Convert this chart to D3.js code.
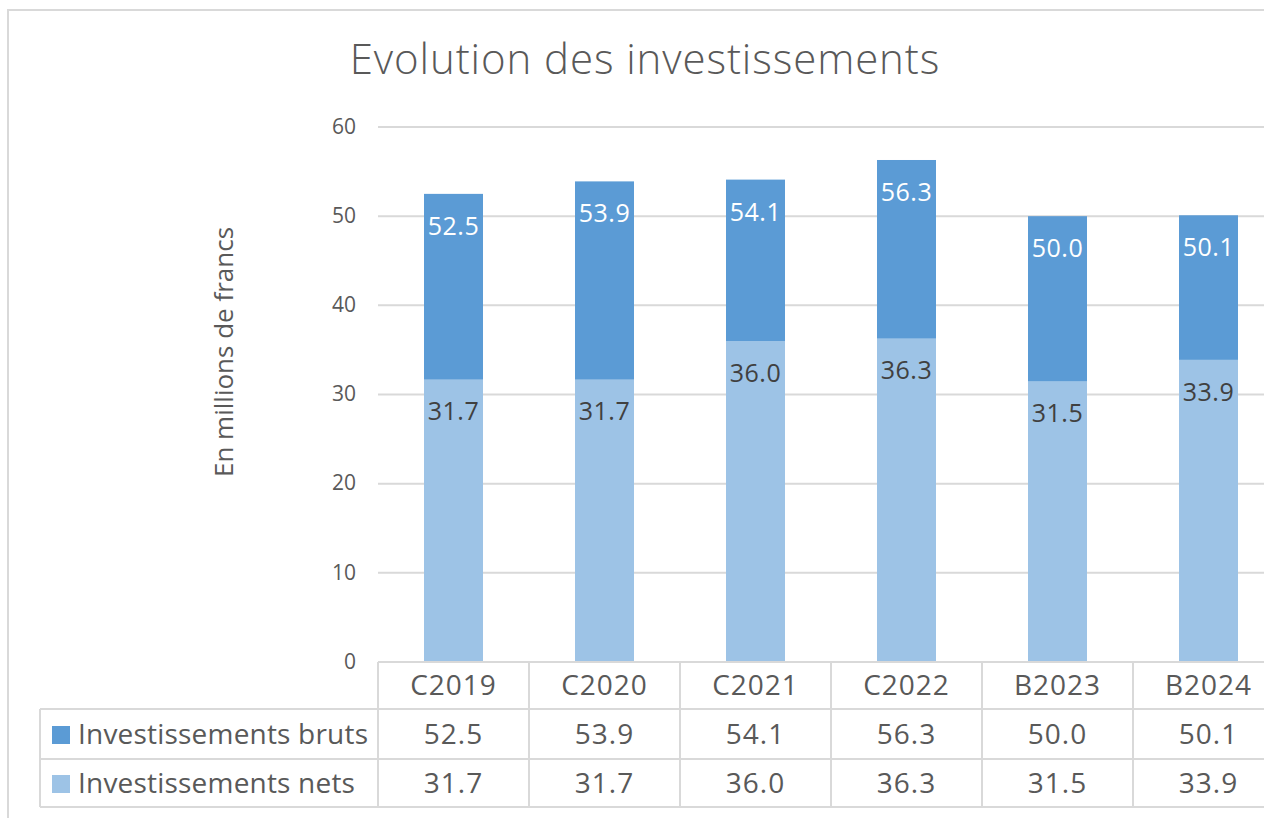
<!DOCTYPE html>
<html>
<head>
<meta charset="utf-8">
<script src="https://cdn.jsdelivr.net/npm/d3@7"></script>
<style>
  body { margin: 0; background: #fff; }
  text { fill: #595959; }
</style>
</head>
<body>
<div id="chart"></div>
<script>
// Data
const categories = ["C2019", "C2020", "C2021", "C2022", "B2023", "B2024"];
const bruts = [52.5, 53.9, 54.1, 56.3, 50.0, 50.1];
const nets = [31.7, 31.7, 36.0, 36.3, 31.5, 33.9];
const seriesNames = ["Investissements bruts", "Investissements nets"];
const yTicks = [0, 10, 20, 30, 40, 50, 60];

const width = 1264;
const height = 818;
const plot = { left: 378, top: 127, bottom: 662 };
const bandW = 151;
const rowH = [47, 50, 48];
const colors = ["#5B9BD5", "#9DC3E6"];
const font = "'Open Sans', 'Noto Sans', sans-serif";

const svg = d3
  .select("#chart")
  .append("svg")
  .attr("width", width)
  .attr("height", height)
  .style("font-family", font);

// frame
svg.append("rect")
  .attr("x", 8).attr("y", 10)
  .attr("width", width + 10).attr("height", height + 10)
  .attr("fill", "none")
  .attr("stroke", "#d9d9d9")
  .attr("stroke-width", 2);

// Scales
const xScale = d3
  .scaleBand()
  .domain(categories)
  .range([plot.left, plot.left + bandW * categories.length])
  .paddingInner(0)
  .paddingOuter(0);

const yScale = d3
  .scaleLinear()
  .domain([0, 60])
  .range([plot.bottom, plot.top]);

const barW = 59;
const barX = (c) => xScale(c) + (xScale.bandwidth() - barW) / 2;

// Gridlines
svg.append("g")
  .selectAll("line")
  .data(yTicks.filter((d) => d > 0))
  .join("line")
  .attr("x1", plot.left)
  .attr("x2", width)
  .attr("y1", (d) => yScale(d))
  .attr("y2", (d) => yScale(d))
  .attr("stroke", "#d9d9d9")
  .attr("stroke-width", 2);

// Y axis labels
const yAxis = d3.axisLeft(yScale).tickValues(yTicks).tickSize(0).tickPadding(0);
const yAxisGroup = svg.append("g")
  .attr("transform", `translate(${plot.left - 22},0)`)
  .call(yAxis);
yAxisGroup.select(".domain").remove();
yAxisGroup.selectAll("text")
  .style("font-family", font)
  .style("font-size", "21px")
  .attr("fill", "#595959")
  .attr("dy", "0.3em");

// Bars (overlapping)
const barData = [bruts, nets];
barData.forEach((vals, s) => {
  svg.append("g")
    .selectAll("rect")
    .data(categories)
    .join("rect")
    .attr("x", (c) => barX(c))
    .attr("width", barW)
    .attr("y", (c, i) => yScale(vals[i]))
    .attr("height", (c, i) => yScale(0) - yScale(vals[i]))
    .attr("fill", colors[s]);
});

// Data labels
barData.forEach((vals, s) => {
  svg.append("g")
    .selectAll("text")
    .data(categories)
    .join("text")
    .attr("x", (c) => xScale(c) + xScale.bandwidth() / 2)
    .attr("y", (c, i) => yScale(vals[i]) + 41)
    .attr("text-anchor", "middle")
    .style("font-size", "25px")
    .style("letter-spacing", "0.5px")
    .style("fill", s === 0 ? "#ffffff" : "#404040")
    .text((c, i) => vals[i].toFixed(1));
});

// Title
svg.append("text")
  .attr("x", 645)
  .attr("y", 74)
  .attr("text-anchor", "middle")
  .style("font-size", "42px")
  .style("font-weight", 300)
  .style("letter-spacing", "0.9px")
  .text("Evolution des investissements");

// Y title
svg.append("text")
  .attr("transform", `translate(233, 352) rotate(-90)`)
  .attr("text-anchor", "middle")
  .style("font-size", "26px")
  .text("En millions de francs");

// Data table
const grid = "#d9d9d9";
const t0 = plot.bottom;
const t1 = t0 + rowH[0];
const t2 = t1 + rowH[1];
const t3 = t2 + rowH[2];
const tableLeft = 40;
const table = svg.append("g").attr("stroke", grid).attr("stroke-width", 2);

table.append("line").attr("x1", plot.left).attr("x2", width).attr("y1", t0).attr("y2", t0);
[t1, t2, t3].forEach((y) => {
  table.append("line").attr("x1", tableLeft).attr("x2", width).attr("y1", y).attr("y2", y);
});
table.append("line").attr("x1", tableLeft).attr("x2", tableLeft).attr("y1", t1).attr("y2", t3);
table.selectAll(".vline")
  .data(categories)
  .join("line")
  .attr("x1", (c) => xScale(c))
  .attr("x2", (c) => xScale(c))
  .attr("y1", t0)
  .attr("y2", t3);

// category labels
svg.append("g")
  .selectAll("text")
  .data(categories)
  .join("text")
  .attr("x", (c) => xScale(c) + xScale.bandwidth() / 2)
  .attr("y", (t0 + t1) / 2)
  .attr("dy", "0.35em")
  .attr("text-anchor", "middle")
  .style("font-size", "28px")
  .style("letter-spacing", "1px")
  .text((c) => c);

// rows
const rowMid = [(t1 + t2) / 2, (t2 + t3) / 2];
barData.forEach((vals, s) => {
  svg.append("rect")
    .attr("x", 52)
    .attr("y", rowMid[s] - 8)
    .attr("width", 18)
    .attr("height", 18)
    .attr("fill", colors[s]);
  svg.append("text")
    .attr("x", 78)
    .attr("y", rowMid[s])
    .attr("dy", "0.35em")
    .style("font-size", "28px")
    .style("letter-spacing", "0.2px")
    .text(seriesNames[s]);
  svg.append("g")
    .selectAll("text")
    .data(categories)
    .join("text")
    .attr("x", (c) => xScale(c) + xScale.bandwidth() / 2)
    .attr("y", rowMid[s])
    .attr("dy", "0.35em")
    .attr("text-anchor", "middle")
    .style("font-size", "28px")
    .style("letter-spacing", "1px")
    .text((c, i) => vals[i].toFixed(1));
});
</script>
</body>
</html>
